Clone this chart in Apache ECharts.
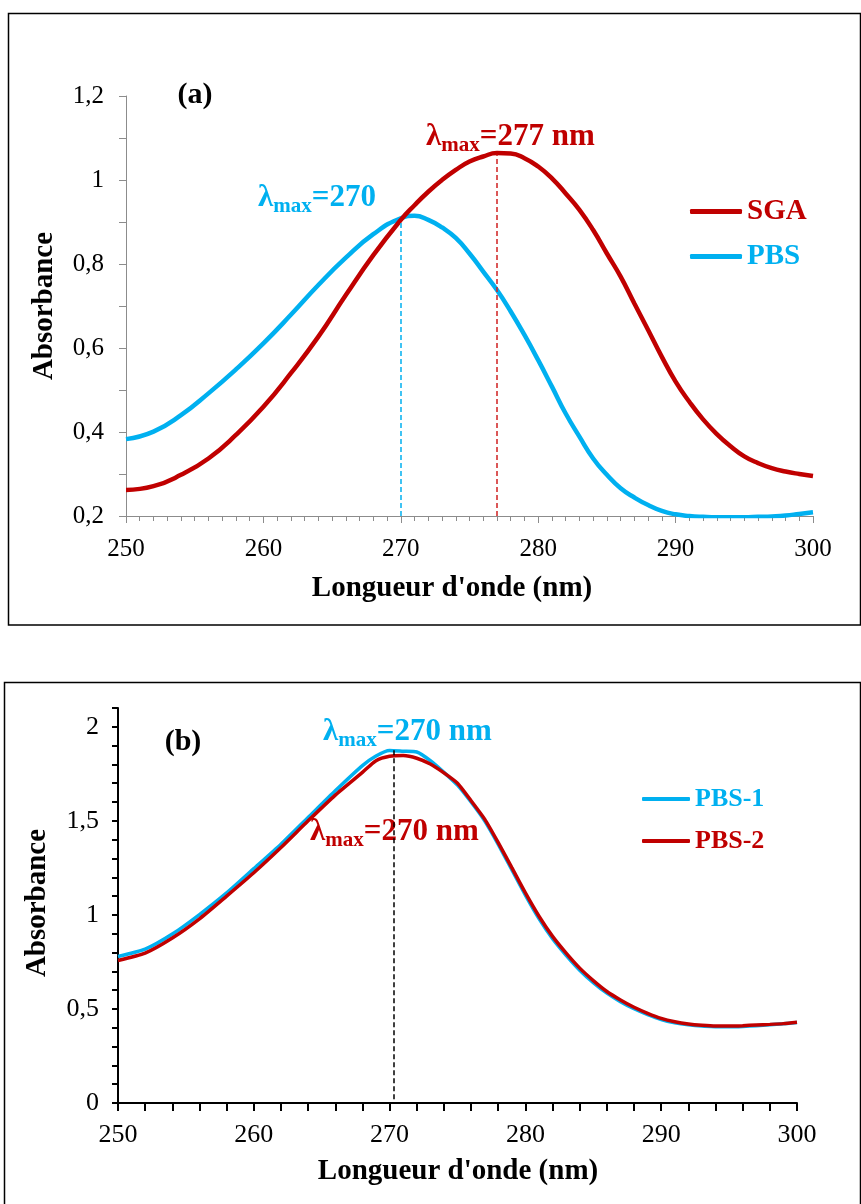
<!DOCTYPE html>
<html>
<head>
<meta charset="utf-8">
<title>Absorbance</title>
<script src="https://cdn.jsdelivr.net/npm/echarts@6/dist/echarts.min.js"></script>
<style>
  html, body { margin: 0; padding: 0; background: #fff; }
  #chart { width: 861px; height: 1204px; }
</style>
</head>
<body>
<div id="chart"></div>
<script>
// (a) SGA vs PBS
const waveA = [250, 252, 254, 256, 258, 260, 262, 264, 266, 268,
  270, 271, 272, 273, 274, 275, 276, 277, 278, 279, 280,
  281, 282, 283, 284, 285, 286, 287, 288, 289, 290,
  291, 292, 293, 294, 295, 296, 297, 298, 299, 300];
const sgaA = [0.262, 0.271, 0.298, 0.337, 0.393, 0.460, 0.540, 0.627, 0.726, 0.821,
  0.905, 0.940, 0.972, 1.000, 1.024, 1.044, 1.056, 1.064, 1.063, 1.052, 1.032,
  1.004, 0.968, 0.929, 0.881, 0.825, 0.770, 0.706, 0.643, 0.579, 0.520,
  0.472, 0.430, 0.395, 0.366, 0.342, 0.326, 0.314, 0.306, 0.300, 0.295];
const pbsA = [0.383, 0.401, 0.440, 0.492, 0.549, 0.611, 0.679, 0.750, 0.815, 0.871,
  0.909, 0.915, 0.905, 0.887, 0.862, 0.825, 0.782, 0.738, 0.687, 0.631, 0.571,
  0.508, 0.444, 0.389, 0.337, 0.298, 0.266, 0.244, 0.226, 0.212, 0.204,
  0.200, 0.198, 0.197, 0.197, 0.197, 0.198, 0.199, 0.201, 0.205, 0.209];
const peaksA = [270, 277];        // dashed lines at lambda max
const peakTopsA = [0.9, 1.06];

// (b) PBS-1 vs PBS-2
const waveB = [250, 252, 254, 256, 258, 260, 262, 264, 266, 268, 269,
  270, 271, 272, 273, 274, 275, 276, 277, 278, 279, 280,
  281, 282, 283, 284, 285, 286, 287, 288, 289, 290,
  291, 292, 293, 294, 295, 296, 297, 298, 299, 300];
const pbs1B = [0.779, 0.818, 0.898, 1.002, 1.117, 1.246, 1.376, 1.518, 1.660, 1.794, 1.845,
  1.874, 1.870, 1.866, 1.820, 1.758, 1.690, 1.600, 1.500, 1.375, 1.240, 1.105,
  0.980, 0.873, 0.785, 0.706, 0.640, 0.584, 0.539, 0.501, 0.470, 0.444,
  0.427, 0.416, 0.409, 0.406, 0.405, 0.407, 0.411, 0.416, 0.421, 0.428];
const pbs2B = [0.758, 0.797, 0.877, 0.979, 1.100, 1.224, 1.358, 1.500, 1.637, 1.758, 1.820,
  1.843, 1.847, 1.833, 1.802, 1.755, 1.700, 1.607, 1.509, 1.384, 1.251, 1.117,
  0.993, 0.886, 0.797, 0.717, 0.651, 0.593, 0.548, 0.509, 0.477, 0.450,
  0.432, 0.420, 0.413, 0.409, 0.409, 0.411, 0.415, 0.418, 0.422, 0.429];
const peakB = 270.3;
const peakTopB = 1.88;

const RED = '#C00000';
const CYAN = '#00B0F0';
const GREY = '#8c8c8c';
const SERIF = '"Liberation Serif", "Times New Roman", serif';

const pairs = (xs, ys) => xs.map((x, i) => [x, ys[i]]);
const comma = v => String(+v.toFixed(1)).replace('.', ',');

// measure text so the subscript pieces sit next to each other
const ctx = document.createElement('canvas').getContext('2d');
function textW(t, font) { ctx.font = font; return ctx.measureText(t).width; }

function lambdaText(x, base, color, rest) {
  const big = 'bold 31px ' + SERIF;
  const small = 'bold 21px ' + SERIF;
  const w1 = textW('λ', big);
  const w2 = textW('max', small);
  const st = (text, font) => ({ text: text, font: font, fill: color,
    align: 'left', verticalAlign: 'middle', textAlign: 'left', textVerticalAlign: 'middle' });
  return [
    { type: 'text', x: x, y: base - 10.5, style: st('λ', big) },
    { type: 'text', x: x + w1, y: base - 1, style: st('max', small) },
    { type: 'text', x: x + w1 + w2, y: base - 10.5, style: st(rest, big) }
  ];
}

function plainText(x, y, text, size, rot) {
  return { type: 'text', x: x, y: y, rotation: rot || 0,
    style: { text: text, font: 'bold ' + size + 'px ' + SERIF, fill: '#000',
      align: 'center', verticalAlign: 'middle', textAlign: 'center', textVerticalAlign: 'middle' } };
}

function dashed(x, y0, y1, color) {
  return {
    symbol: ['none', 'none'], silent: true, label: { show: false },
    itemStyle: { color: color },
    lineStyle: { color: color, width: 1.5, type: [5, 3], opacity: 1 },
    emphasis: { disabled: true },
    data: [[{ coord: [x, y0] }, { coord: [x, y1] }]]
  };
}

let chart = echarts.init(document.getElementById('chart'));

let option = {
  animation: false,
  backgroundColor: '#fff',
  grid: [
    { left: 126, top: 96, width: 687, height: 420 },
    { left: 118, top: 708, width: 679, height: 395 }
  ],
  xAxis: [
    {
      gridIndex: 0, type: 'value', min: 250, max: 300, interval: 10,
      axisLine: { show: true, lineStyle: { color: GREY, width: 1 } },
      axisTick: { show: true, length: 7, lineStyle: { color: GREY } },
      minorTick: { show: true, splitNumber: 10, length: 5, lineStyle: { color: GREY } },
      splitLine: { show: false },
      axisLabel: { color: '#000', fontFamily: SERIF, fontSize: 25, margin: 21 }
    },
    {
      gridIndex: 1, type: 'value', min: 250, max: 300, interval: 10,
      axisLine: { show: true, lineStyle: { color: '#000', width: 2 } },
      axisTick: { show: true, length: 8, lineStyle: { color: '#000', width: 2 } },
      minorTick: { show: true, splitNumber: 5, length: 8, lineStyle: { color: '#000', width: 2 } },
      splitLine: { show: false },
      axisLabel: { color: '#000', fontFamily: SERIF, fontSize: 26, margin: 19 }
    }
  ],
  yAxis: [
    {
      gridIndex: 0, type: 'value', min: 0.2, max: 1.2, interval: 0.2,
      axisLine: { show: true, lineStyle: { color: GREY, width: 1 } },
      axisTick: { show: true, length: 7, lineStyle: { color: GREY } },
      minorTick: { show: true, splitNumber: 2, length: 7, lineStyle: { color: GREY } },
      splitLine: { show: false },
      axisLabel: { color: '#000', fontFamily: SERIF, fontSize: 25, margin: 22, formatter: comma }
    },
    {
      gridIndex: 1, type: 'value', min: 0, max: 2.1, interval: 0.1,
      axisLine: { show: true, lineStyle: { color: '#000', width: 2 } },
      axisTick: { show: true, length: 6, lineStyle: { color: '#000', width: 2 } },
      splitLine: { show: false },
      axisLabel: {
        color: '#000', fontFamily: SERIF, fontSize: 26, margin: 19,
        // only 0, 0.5, 1, 1.5, 2 carry a label
        formatter: v => Math.abs(v * 2 - Math.round(v * 2)) < 1e-6 ? comma(v) : ''
      }
    }
  ],
  legend: [
    {
      left: 690, top: 197, padding: 0, orient: 'vertical', selectedMode: false,
      itemWidth: 52, itemHeight: 5, itemGap: 16, icon: 'roundRect',
      textStyle: { fontFamily: SERIF, fontWeight: 'bold', fontSize: 29 },
      data: [{ name: 'SGA', textStyle: { color: RED } }, { name: 'PBS', textStyle: { color: CYAN } }]
    },
    {
      left: 642, top: 786, padding: 0, orient: 'vertical', selectedMode: false,
      itemWidth: 48, itemHeight: 4, itemGap: 16, icon: 'roundRect',
      textStyle: { fontFamily: SERIF, fontWeight: 'bold', fontSize: 26 },
      data: [{ name: 'PBS-1', textStyle: { color: CYAN } }, { name: 'PBS-2', textStyle: { color: RED } }]
    }
  ],
  series: [
    {
      name: 'PBS', type: 'line', xAxisIndex: 0, yAxisIndex: 0,
      data: pairs(waveA, pbsA), symbol: 'none', smooth: true,
      lineStyle: { color: CYAN, width: 4.5 }, itemStyle: { color: CYAN },
      markLine: dashed(peaksA[0], 0.2, peakTopsA[0], CYAN)
    },
    {
      name: 'SGA', type: 'line', xAxisIndex: 0, yAxisIndex: 0,
      data: pairs(waveA, sgaA), symbol: 'none', smooth: true,
      lineStyle: { color: RED, width: 4.5 }, itemStyle: { color: RED },
      markLine: dashed(peaksA[1], 0.2, peakTopsA[1], '#D02020')
    },
    {
      name: 'PBS-1', type: 'line', xAxisIndex: 1, yAxisIndex: 1,
      data: pairs(waveB, pbs1B), symbol: 'none', smooth: 0.2,
      lineStyle: { color: CYAN, width: 3.5 }, itemStyle: { color: CYAN }
    },
    {
      name: 'PBS-2', type: 'line', xAxisIndex: 1, yAxisIndex: 1,
      data: pairs(waveB, pbs2B), symbol: 'none', smooth: 0.2,
      lineStyle: { color: RED, width: 3.5 }, itemStyle: { color: RED },
      markLine: dashed(peakB, 0.02, peakTopB, '#000')
    }
  ],
  graphic: [
    // frames round the two panels
    { type: 'rect', shape: { x: 8.5, y: 13.5, width: 852, height: 611.5 },
      style: { fill: 'none', stroke: '#000', lineWidth: 1.5 } },
    { type: 'rect', shape: { x: 4.5, y: 682.5, width: 856, height: 530 },
      style: { fill: 'none', stroke: '#000', lineWidth: 1.5 } },
    plainText(195, 95, '(a)', 30),
    plainText(183, 742, '(b)', 30),
    plainText(452, 589, "Longueur d'onde (nm)", 29),
    plainText(458, 1172, "Longueur d'onde (nm)", 29),
    plainText(45, 306, 'Absorbance', 29, Math.PI / 2),
    plainText(38, 903, 'Absorbance', 29, Math.PI / 2),
    ...lambdaText(426, 147, RED, '=277 nm'),
    ...lambdaText(258, 208, CYAN, '=270'),
    ...lambdaText(323, 742, CYAN, '=270 nm'),
    ...lambdaText(310, 842, RED, '=270 nm')
  ]
};

chart.setOption(option);
</script>
</body>
</html>
